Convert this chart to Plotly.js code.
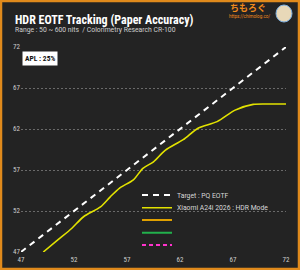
<!DOCTYPE html>
<html>
<head>
<meta charset="utf-8">
<script src="https://cdn.plot.ly/plotly-3.0.1.min.js"></script>
<style>
html,body{margin:0;padding:0;background:#232323;}
#chart{width:300px;height:270px;}
</style>
</head>
<body>
<div id="chart"></div>
<script>
// Data
const targetX = [47, 72];
const targetY = [47, 72];
const measuredX = [49.1, 50.5, 51.8, 52.9, 54.5, 55.4, 56.3, 57.6, 58.5, 59.5, 60.6, 62.3, 63.7, 65.5, 67.2, 68.9, 70.5, 72];
const measuredY = [47.0, 48.5, 49.9, 51.3, 52.5, 53.7, 54.8, 55.8, 57.2, 58.0, 59.4, 60.7, 62.1, 62.9, 64.3, 65.0, 65.05, 65.05];
const tickVals = [47, 52, 57, 62, 67, 72];
const tickText = ['47', '52', '57', '62', '67', '72'];
const seriesNames = ['Target : PQ EOTF', 'Xiaomi A24i 2026 : HDR Mode', ' ', ' ', ' '];

const condensed = '"Roboto Condensed","Liberation Sans Narrow","DejaVu Sans Condensed",Roboto,sans-serif';

// pixel -> paper helpers (plot area: x 21..286, y 47..252)
const PX = px => (px - 21) / 265;
const PY = py => (252 - py) / 205;

const traces = [
  {x: targetX, y: targetY, mode: 'lines', name: seriesNames[0], legend: 'legend',
   line: {color: '#ffffff', width: 2, dash: '6px,5px'}},
  {x: measuredX, y: measuredY, mode: 'lines', name: seriesNames[1], legend: 'legend2',
   line: {color: '#e2e200', width: 1.6, shape: 'spline', smoothing: 0.8}},
  {x: [null], y: [null], mode: 'lines', name: seriesNames[2], legend: 'legend3', line: {color: '#e0a000', width: 2}},
  {x: [null], y: [null], mode: 'lines', name: seriesNames[3], legend: 'legend4', line: {color: '#22b14c', width: 2}},
  {x: [null], y: [null], mode: 'lines', name: seriesNames[4], legend: 'legend5', line: {color: '#ff33cc', width: 2, dash: '4px,3px'}}
];

function leg(py) {
  return {x: PX(137), y: PY(py), xanchor: 'left', yanchor: 'middle',
    bgcolor: 'rgba(0,0,0,0)', borderwidth: 0,
    font: {color: '#d8d8d8', size: 6.8, family: 'Roboto, sans-serif'}, itemwidth: 30};
}

const layout = {
  width: 300, height: 270,
  paper_bgcolor: '#232323', plot_bgcolor: '#232323',
  margin: {l: 21, r: 14, t: 47, b: 18, autoexpand: false},
  showlegend: true,
  legend: leg(195), legend2: leg(207.7), legend3: leg(220), legend4: leg(232.7), legend5: leg(245),
  xaxis: {range: [47, 72], tickvals: tickVals, ticktext: tickText, showgrid: false, zeroline: false,
    showline: false, ticks: '', ticklabelstandoff: 2, tickfont: {color: '#cfcfcf', size: 7, family: condensed}},
  yaxis: {range: [47, 72], tickvals: tickVals, ticktext: tickText, showgrid: true,
    gridcolor: '#6a6a6a', griddash: '2px,2px', gridwidth: 1, zeroline: false, showline: false, ticks: '',
    tickfont: {color: '#cfcfcf', size: 7, family: condensed}},
  annotations: [
    {xref: 'paper', yref: 'paper', x: PX(13), y: PY(20), xanchor: 'left', yanchor: 'middle',
     text: '<b>HDR EOTF Tracking (Paper Accuracy)</b>', showarrow: false,
     font: {color: '#ffffff', size: 12, family: condensed}},
    {xref: 'paper', yref: 'paper', x: PX(13), y: PY(30.5), xanchor: 'left', yanchor: 'middle',
     text: 'Range : 50 ~ 600 nits  / Colorimetry Research CR-100', showarrow: false,
     font: {color: '#d0d0d0', size: 6.8, family: 'Roboto, sans-serif'}},
    {xref: 'paper', yref: 'paper', x: PX(22), y: PY(58), xanchor: 'left', yanchor: 'middle',
     text: '<b>APL : 25%</b>', showarrow: false, bgcolor: '#ffffff', borderpad: 2,
     font: {color: '#111111', size: 7.5, family: condensed}},
    {xref: 'paper', yref: 'paper', x: PX(248), y: PY(7), xanchor: 'center', yanchor: 'middle',
     text: '<b>ちもろぐ</b>', showarrow: false,
     font: {color: '#f08a1c', size: 9, family: '"Noto Sans CJK JP", sans-serif'}},
    {xref: 'paper', yref: 'paper', x: PX(249), y: PY(16.5), xanchor: 'center', yanchor: 'middle',
     text: 'https://chimolog.co/', showarrow: false,
     font: {color: '#f08a1c', size: 4.5, family: 'Roboto, sans-serif'}}
  ],
  shapes: [
    {type: 'rect', xref: 'paper', yref: 'paper', x0: PX(1), x1: PX(299), y0: PY(269), y1: PY(1),
     line: {color: '#e08a1c', width: 2.5}, fillcolor: 'rgba(0,0,0,0)', layer: 'above'},
    // mascot icon stand-in
    {type: 'circle', xref: 'paper', yref: 'paper', x0: PX(276), x1: PX(292), y0: PY(22), y1: PY(5),
     line: {color: '#7fb0e0', width: 1}, fillcolor: '#e8d8b8'}
  ]
};

Plotly.newPlot('chart', traces, layout, {staticPlot: true, displayModeBar: false});
</script>
</body>
</html>
